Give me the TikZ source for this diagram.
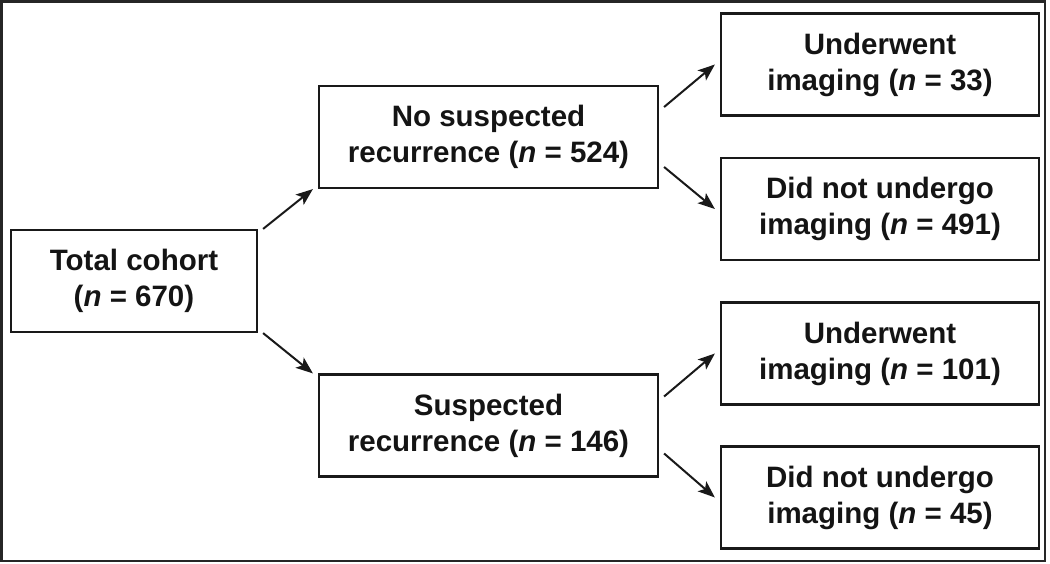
\documentclass[tikz,border=0pt]{standalone}
\usepackage{fontspec}
\setmainfont{Liberation Sans}
\usetikzlibrary{arrows.meta}
\begin{document}
\begin{tikzpicture}[x=1pt,y=1pt,
  box/.style={draw=black!90, line width=2.2pt, inner sep=0pt, align=center,
    minimum height=102pt, font=\fontsize{29.5}{36}\selectfont\bfseries, text=black!92},
  arr/.style={draw=black!90, line width=2pt, -{Stealth[length=17pt,width=13pt,inset=4pt]}}]
\useasboundingbox (0,0) rectangle (1050,563);
\draw[line width=2.6pt, draw=black!85] (1.3,2) rectangle (1045,561.7);

\node[box, minimum width=246pt] (total) at (134,282) {Total cohort\\(\textit{n} = 670)};
\node[box, minimum width=339pt] (nosus) at (488.5,426) {No suspected\\recurrence (\textit{n} = 524)};
\node[box, minimum width=339pt] (sus) at (488.5,137.5) {Suspected\\recurrence (\textit{n} = 146)};
\node[box, minimum width=318pt] (u33) at (880,498.5) {Underwent\\imaging (\textit{n} = 33)};
\node[box, minimum width=318pt] (d491) at (880,354) {Did not undergo\\imaging (\textit{n} = 491)};
\node[box, minimum width=318pt] (u101) at (880,209.5) {Underwent\\imaging (\textit{n} = 101)};
\node[box, minimum width=318pt] (d45) at (880,65.5) {Did not undergo\\imaging (\textit{n} = 45)};

\draw[arr] ([xshift=5pt]total.north east) -- ([xshift=-5pt]nosus.south west);
\draw[arr] ([xshift=5pt]total.south east) -- ([xshift=-5pt]sus.north west);
\draw[arr] ([shift={(5pt,30pt)}]nosus.east) -- ([xshift=-5pt]u33.west);
\draw[arr] ([shift={(5pt,-30pt)}]nosus.east) -- ([xshift=-5pt]d491.west);
\draw[arr] ([shift={(5pt,29pt)}]sus.east) -- ([xshift=-5pt]u101.west);
\draw[arr] ([shift={(5pt,-28pt)}]sus.east) -- ([xshift=-5pt]d45.west);
\end{tikzpicture}
\end{document}
